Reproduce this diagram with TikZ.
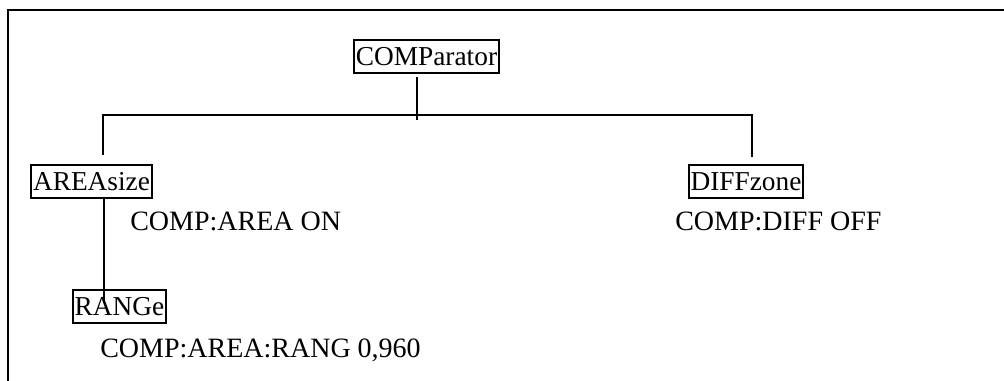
\documentclass[tikz,border=0pt]{standalone}
\usepackage{fontspec}
\setmainfont{Liberation Serif}
\usetikzlibrary{calc, positioning}

\tikzset{
  cmdbox/.style={draw, line width=1.4pt, inner xsep=1.5pt, inner ysep=5.6pt,
    text height=13.6pt, text depth=0pt},
  cmdtext/.style={anchor=base west, inner sep=0pt, font=\fontsize{21pt}{25pt}\selectfont},
  link/.style={line width=0.9pt}
}

\begin{document}
\begin{tikzpicture}[x=0.75pt, y=-0.75pt]
\fontsize{20.5pt}{24pt}\selectfont
\useasboundingbox (0,0) rectangle (1004,381);

% frame
\draw[line width=1.5pt] (8,381) -- (8,10) -- (1004,10);

\node[cmdbox] (comp) at (426.5,56.5) {COMParator};
\node[cmdbox] (area) at (91.5,181.5) {AREAsize};
\node[cmdbox] (diff) at (746,181.5) {DIFFzone};
\node[cmdbox] (rang) at (119.5,306.5) {RANGe};

\node[cmdtext] (areaon) at (130,231) {COMP:AREA ON};
\node[cmdtext] (diffoff) at (675,231) {COMP:DIFF OFF};
\node[cmdtext] (rangval) at (100,357) {COMP:AREA:RANG 0,960};

\coordinate (stem) at (417,77);
\coordinate (stemEnd) at (417,120);
\coordinate (busL) at (103,115);
\coordinate (busR) at (752,115);
\coordinate (areaTop) at (103,155);
\coordinate (diffTop) at (752,157);
\coordinate (rangIn) at (104,303);

\draw[link] (stem) -- (stemEnd);
\draw[link] (areaTop) -- (busL) -- (busR) -- (diffTop);
\draw[link] (area.south -| rangIn) -- (rangIn);
\end{tikzpicture}
\end{document}
